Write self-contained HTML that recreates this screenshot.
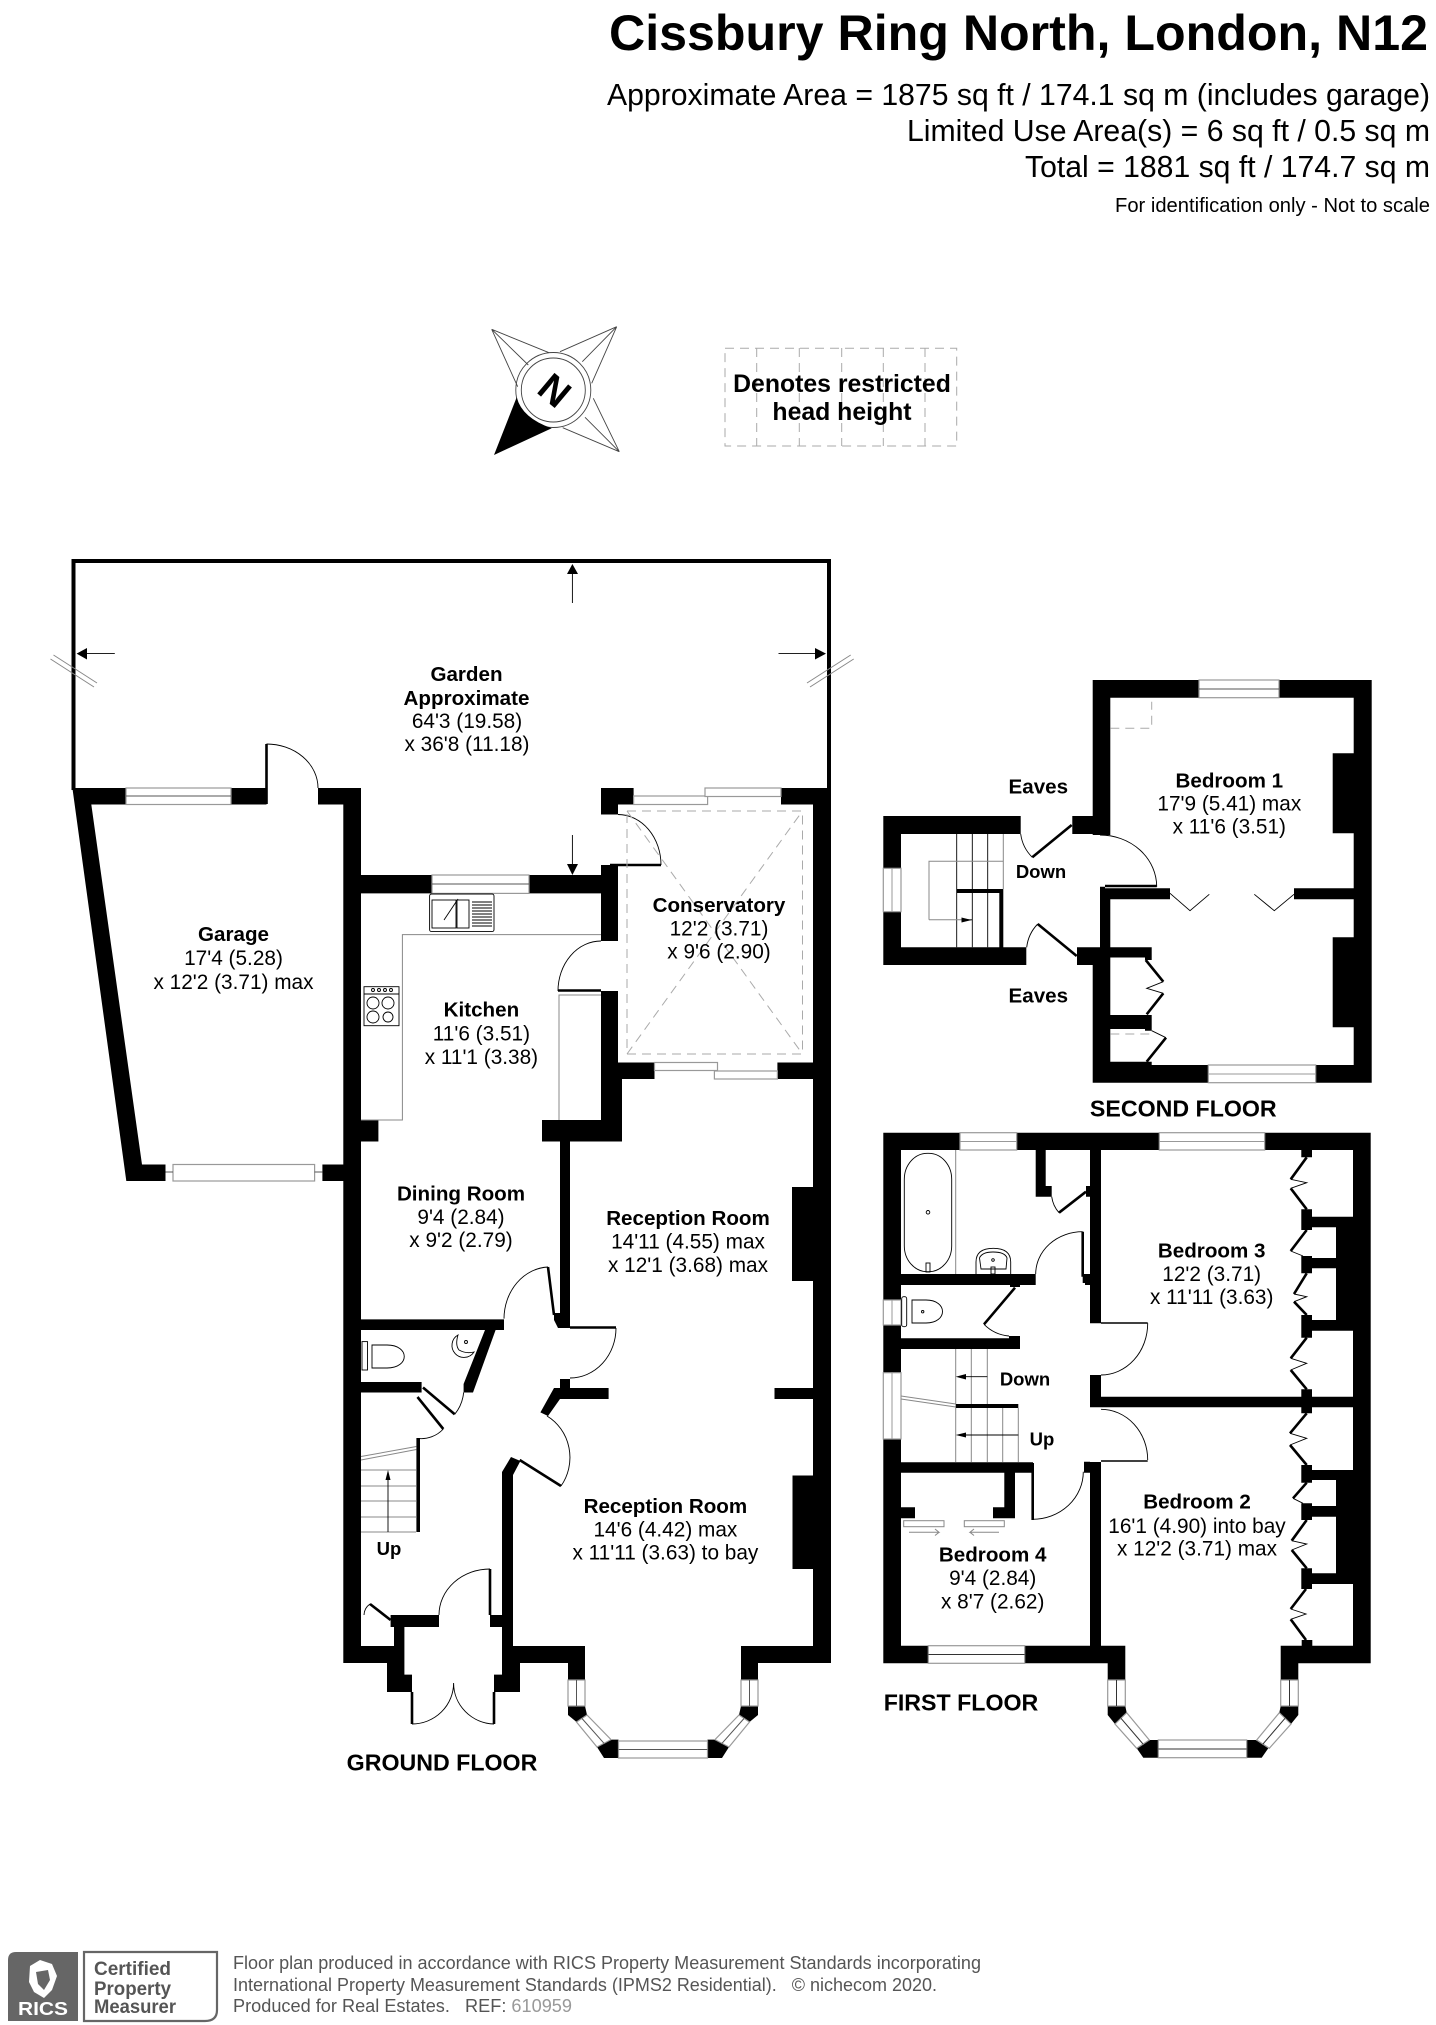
<!DOCTYPE html>
<html lang="en"><head><meta charset="utf-8"><title>Cissbury Ring North, London, N12</title>
<style>
html,body{margin:0;padding:0;background:#fff;width:1436px;height:2025px;overflow:hidden}
svg{display:block}
text{font-family:"Liberation Sans",sans-serif;fill:#000}
.b{font-weight:700;font-size:20.6px;text-anchor:middle}
.r{font-size:20.8px;text-anchor:middle}
.f{font-weight:700;font-size:23.2px;text-anchor:middle}
.e{text-anchor:end}
.w{fill:#fff;stroke:#999;stroke-width:1.2}
.l{fill:none;stroke:#555;stroke-width:1}
.g{fill:none;stroke:#888;stroke-width:1}
.t{fill:none;stroke:#000;stroke-width:.9}
.k{fill:none;stroke:#000;stroke-width:2.6}
.d{fill:none;stroke:#aaa;stroke-width:1;stroke-dasharray:9 6}
.c{font-size:18px;fill:#555}
</style></head><body>
<svg width="1436" height="2025" viewBox="0 0 1436 2025" xmlns="http://www.w3.org/2000/svg">
<rect width="1436" height="2025" fill="#fff"/>

<!-- header -->
<text x="1428" y="50" class="e" font-weight="700" font-size="50" textLength="819" lengthAdjust="spacingAndGlyphs">Cissbury Ring North, London, N12</text>
<text x="1430" y="105" class="e" font-size="31" textLength="823" lengthAdjust="spacingAndGlyphs">Approximate Area = 1875 sq ft / 174.1 sq m (includes garage)</text>
<text x="1430" y="141" class="e" font-size="31" textLength="523" lengthAdjust="spacingAndGlyphs">Limited Use Area(s) = 6 sq ft / 0.5 sq m</text>
<text x="1430" y="177" class="e" font-size="31" textLength="405" lengthAdjust="spacingAndGlyphs">Total = 1881 sq ft / 174.7 sq m</text>
<text x="1430" y="212" class="e" font-size="20" textLength="315" lengthAdjust="spacingAndGlyphs">For identification only - Not to scale</text>

<!-- compass -->
<g fill="none" stroke="#444" stroke-width=".9">
<path d="M491.7 329.3L549 352.7M491.7 329.3L517.7 386.7M491.7 329.3L528.3 365"/>
<path d="M616.7 326.7L560 351.7M616.7 326.7L591.7 383.3M616.7 326.7L582.3 361.7"/>
<path d="M619.3 451.7L593.3 398.3M619.3 451.7L562.7 427.7M619.3 451.7L585 417.3"/>
<circle cx="553.3" cy="390" r="37.5"/><circle cx="553.3" cy="390" r="32"/>
</g>
<path d="M494 455L516.7 397.3Q522 418 551.7 428.3Z" fill="#000"/>
<text x="0" y="0" transform="translate(555 390) rotate(40) translate(-14 14)" font-weight="700" font-size="39" textLength="28" lengthAdjust="spacingAndGlyphs">N</text>

<!-- restricted key -->
<rect x="725" y="348.3" width="231.7" height="97.7" class="d"/>
<path class="d" d="M756.7 348V446M799.3 348V446M841.7 348V446M883.3 348V446M925 348V446"/>
<text x="842" y="392" class="b" style="font-size:24.8px">Denotes restricted</text>
<text x="842" y="420" class="b" style="font-size:24.8px">head height</text>

<!-- garden -->
<path d="M73.5 790V561H829V790" fill="none" stroke="#000" stroke-width="4"/>
<path d="M572.4 572V603M572.4 835V866M85 653.6H114.8M778.5 653.6H817" class="t" stroke-width="1"/>
<path d="M572.4 564L578 574H567ZM572.4 875L578 864H567ZM76.6 653.6L87 648V659.5ZM826 653.6L815 648V659.5Z" fill="#000"/>
<path d="M50.5 659L94 687M53.5 655L97 683M850.7 655L807 683M853.7 659L810 687" class="g"/>

<!-- GROUND FLOOR walls -->
<path fill="#000" d="M72.4 788H126V804.5H91.3L142 1164.5H165.5V1181H126.3Z
M231 788H266.5V804.5H231Z M318 788H361V804.5H318Z M343.3 804H361V1663H343.3Z
M322.4 1164.5H343.3V1181H322.4Z
M361 875H432V893.4H361Z M529 875H602V893.4H529Z
M601 865H618V941H601Z M601 991H618V1062.5H601Z M601 1062.5H622V1141.5H601Z M542 1120H622V1141.5H542Z M361 1120H378.4V1141.5H361Z
M601 788H633.6V804.5H618V814.5H601Z M781 788H831V804.5H781Z M813 804H831V1663H813Z
M618 1062.5H654.5V1079H618Z M777.4 1062.5H813V1079H777.4Z
M560 1141.5H570V1328H558L554 1320V1313H560Z M560 1379H570V1389H560Z
M554 1388H608.6V1399H560L548 1416L540.4 1412.4Z M774.5 1388H813.5V1399H774.5Z
M792 1187H813.5V1281H792Z M792.5 1475.5H813.5V1569H792.5Z
M361 1319.4H504V1330H361Z M485 1330H495.6L473 1392.5H463.6V1384Z M361 1382H421.6V1392.5H361Z
M416.4 1438H420V1532H416.4Z
M502 1472L511 1457L520.4 1461L513 1475V1663H502Z M490 1615H502V1627H490Z
M343.4 1646H394V1663H343.4Z
M390.6 1615H439V1627H404.4V1674.6H412V1692H387V1663H394V1627H390.6Z
M502 1627H513V1663H520V1692H494V1674.6H502Z
M513 1646H585V1680H568V1663H513Z M741 1646H831V1663H758V1680H741Z
M568 1706H585L587 1715L576.5 1722L568 1715Z M758 1706H741L739 1715L749.5 1722L758 1715Z
M597 1747L611 1739.6H618.5V1758H604Z M729 1747L715 1739.6H707.5V1758H722Z"/>

<!-- ground windows -->
<rect x="126" y="788" width="105" height="16.5" class="w"/><path class="l" d="M126 796H231"/>
<rect x="173" y="1164.5" width="141.6" height="16.5" class="w"/><path class="l" d="M165.5 1172H173M314.6 1172H322.4"/>
<rect x="432" y="875" width="97" height="18.4" class="w"/><path class="l" d="M432 884H529"/>
<rect x="633.6" y="796" width="74" height="8.5" class="w"/><rect x="705" y="788" width="76" height="8.5" class="w"/>
<rect x="654.5" y="1062.5" width="63" height="8" class="w"/><rect x="714.4" y="1071" width="63" height="8" class="w"/>
<rect x="568" y="1680" width="17" height="26" class="w"/><path class="l" d="M576.5 1680V1706"/>
<rect x="741" y="1680" width="17" height="26" class="w"/><path class="l" d="M749.5 1680V1706"/>
<rect x="618.5" y="1741" width="89" height="17" class="w"/><path class="l" d="M618.5 1749.5H707.5"/>
<path class="w" d="M576.5 1722L587 1715L611 1739.6L597 1747Z M749.5 1722L739 1715L715 1739.6L729 1747Z"/>
<path class="l" d="M582 1718.5L604 1743.3M744 1718.5L722 1743.3"/>

<!-- ground doors -->
<path class="k" d="M266.5 744V804M610 865H661M558 990.5H601M548 1267L554 1315M570 1327.5H616M423 1387.5L454.7 1414.3M417.5 1397L443.3 1429M519.7 1460L561 1486M370 1604L390.6 1620M490 1569V1615M412 1692V1724M494 1692V1724"/>
<path class="t" d="M266.5 744A51.5 44 0 0 1 318 788M618 814.5A43 50.5 0 0 1 661 865M601 941A43 50 0 0 0 558 991M548 1267A46 52 0 0 0 504 1318.6M616 1328A46 50 0 0 1 570 1378M454.7 1414.3A40 40 0 0 0 463.6 1392.5M443.3 1429A30 30 0 0 1 417.5 1438.4M547 1416A46 48 0 0 1 561 1486M490 1569A51 46 0 0 0 439 1615M412 1724A41.6 41 0 0 0 453.6 1683M494 1724A41.6 41 0 0 1 453.6 1683M370 1604A14 14 0 0 0 364 1615"/>

<!-- conservatory roof -->
<rect x="627" y="811" width="175.5" height="243" class="d"/>
<path class="d" d="M627 1054L802.5 811M627 811L802.5 1054"/>

<!-- kitchen fit -->
<path class="g" d="M361 1120H402.4V934.6H601M559 1120V995H601"/>
<rect x="429.6" y="894" width="64.4" height="37.6" rx="2" class="t"/>
<rect x="432" y="900" width="24" height="28" class="t"/><rect x="457" y="900" width="12" height="28" class="t"/>
<path class="t" d="M444 920L458 899M472 902H492M472 905H492M472 908H492M472 911H492M472 914H492M472 917H492M472 920H492M472 923H492M472 926H492"/>
<rect x="364" y="986.7" width="35" height="39" class="t"/><path class="t" d="M364 994H399"/>
<circle cx="373" cy="1003" r="6" class="t"/><circle cx="388" cy="1003" r="6" class="t"/><circle cx="373" cy="1017" r="6" class="t"/><circle cx="388" cy="1017" r="5" class="t"/>
<circle cx="373" cy="990" r="1.5" class="t"/><circle cx="379" cy="990" r="1.5" class="t"/><circle cx="385" cy="990" r="1.5" class="t"/><circle cx="391" cy="990" r="1.5" class="t"/>

<!-- ground WC and stairs -->
<rect x="362" y="1341.6" width="5.5" height="28.4" class="t"/>
<path class="t" d="M372 1345H387C410 1345 410 1368 387 1368H372Z"/>
<path class="t" d="M474 1352A12 12 0 1 1 458 1335Q455 1345 459 1350Q466 1354 474 1352Z"/>
<circle cx="466" cy="1342" r="1.5" class="t"/>
<path class="g" d="M361 1470H416M361 1486H416M361 1501H416M361 1517H416M361 1532H416M361 1460L416.4 1449.5M361 1456.5L416.4 1446.5"/>
<path class="t" d="M388 1532V1476"/><path d="M388 1470L390.5 1480H385.5Z"/>

<!-- SECOND FLOOR -->
<path fill="#000" d="M1092.7 680H1199V697.7H1110.3V835H1092.7V834H1072.3V816H1092.7Z
M1279 680H1371.7V1082.7H1315.7V1065H1353.7V697.7H1279Z
M1100 886.7H1105V888.3H1170V899.3H1110.3V947.3H1151.7V960H1145V957.5H1110.3V1015H1151.7V1030.7H1145V1029H1110.3V1061.7H1151.7V1065H1208.3V1082.7H1092.7V965H1077V947.3H1100Z
M1294 888.3H1353.7V899.3H1294Z
M1332.7 753.3H1353.7V833.3H1332.7Z M1332.7 937.3H1353.7V1027.3H1332.7Z
M883.3 816H1020.7V834H901V868.3H883.3Z M883.3 911.7H901V947.3H1026.3V965H883.3Z
M956.7 889H1003.3V947.3H999.3V893H956.7Z"/>
<rect x="1199" y="680" width="80" height="17.7" class="w"/><path class="l" d="M1199 689H1279"/>
<rect x="1208.3" y="1065" width="107.4" height="17.7" class="w"/><path class="l" d="M1208.3 1074H1315.7" style="stroke:#999"/>
<rect x="883.3" y="868.3" width="17.7" height="43.4" class="w"/><path class="l" d="M892 868.3V911.7" style="stroke:#999"/>
<path class="k" d="M1032.3 857.3L1071.7 825M1037.7 924L1076.7 956M1105 886H1156.7M1145.7 960L1163.3 981.7M1146.7 1014.3L1163.3 993.3M1146.7 1061.7L1166 1037.7"/>
<path class="t" d="M1020.7 834A40 40 0 0 0 1032.3 857.3M1037.7 924A40 40 0 0 0 1026.7 947.3M1100 835A56.7 51.7 0 0 1 1156.7 886.7M1163.3 981.7L1146.7 988.3L1163.3 993.3M1166 1037.7L1151.7 1030.7M1170 893.3L1190 910.7L1209.3 894.3M1294 894.3L1274.3 910.7L1254.3 894.3"/>
<path class="d" d="M1110.3 728.3H1151.7V701.7M1110.3 1034H1151.7"/>
<path class="t" d="M956.7 834V947.3M972.3 834V889M972.3 893V947.3M987.7 834V889M987.7 893V947.3"/>
<path class="g" d="M1003.3 834V889M929 919.8V861.3H1003.3M929 919.8H965"/>
<path class="t" d="M965 919.8H972"/><path d="M971.7 920L961.5 917.5V922.5Z"/>

<!-- FIRST FLOOR -->
<path fill="#000" d="M883.3 1132.7H960V1150H901V1300H883.3Z M1016.7 1132.7H1159.3V1150H1101V1323.3H1090V1196.7H1086V1186H1090V1150H1045.7V1186H1051.7V1196.7H1035.7V1150H1016.7Z
M1264.7 1132.7H1370.7V1663.3H1280.7V1645.7H1353V1584H1312V1589H1301.3V1568.3H1312V1573.3H1336V1516.7H1312V1520H1301.3V1503.3H1312V1506H1336V1480H1312V1482.7H1301.3V1465H1312V1470H1353V1407.3H1312V1413.3H1301.3V1407.3H1090V1375H1101V1396.7H1301.3V1389.3H1312V1396.7H1353V1330.7H1312V1337.7H1301.3V1315H1312V1320H1336V1268.3H1312V1273.3H1301.3V1256H1312V1258H1336V1227.3H1312V1230H1301.3V1209.3H1312V1216.7H1353V1150H1312V1157.3H1301.3V1150H1264.7Z
M1301.7 1640H1312.3V1646H1301.7Z
M883.3 1325H901V1372.7H883.3Z M883.3 1439H901V1645.7H928.3V1663.3H883.3Z
M901 1274H1035.7V1285H1020V1287H1010V1285H901Z M1082.7 1274H1090V1285H1085V1283H1082.7Z
M901 1338.3H1009V1336H1020V1349H901Z
M901 1462.3H1033V1472.7H1015V1518.3H993V1507.3H1004.3V1472.7H901Z
M1084 1461.7H1090V1462H1101V1645.7H1125.3V1680H1107.7V1663.3H1024.7V1645.7H1090V1472.7H1084Z
M901 1507.3H915V1518.3H901Z
M1107.7 1706H1125.3L1126.7 1712.7L1115 1724L1107.7 1715Z M1298.3 1706H1280.7L1279.3 1712.7L1291 1724L1298.3 1715Z
M1136.7 1748.3L1149.3 1740H1158.3V1757.7H1143.3Z M1268.3 1748.3L1255.7 1740H1246.7V1757.7H1261.7Z
M1280.7 1645.7H1298.3V1680H1280.7Z"/>
<rect x="960" y="1132.7" width="56.7" height="17.3" class="w"/><path class="l" d="M960 1141.5H1016.7" style="stroke:#999"/>
<rect x="1159.3" y="1132.7" width="105.4" height="17.3" class="w"/><path class="l" d="M1159.3 1141.5H1264.7" style="stroke:#999"/>
<rect x="883.3" y="1300" width="17.7" height="25" class="w"/><path class="l" d="M892 1300V1325" style="stroke:#999"/>
<rect x="883.3" y="1372.7" width="17.7" height="66.3" class="w"/><path class="l" d="M892 1372.7V1439" style="stroke:#999"/>
<rect x="928.3" y="1645.7" width="96.4" height="17.6" class="w"/><path class="l" d="M928.3 1654.5H1024.7" style="stroke:#333"/>
<rect x="1107.7" y="1680" width="17.6" height="26" class="w"/><path class="l" d="M1116.5 1680V1706" style="stroke:#333"/>
<rect x="1280.7" y="1680" width="17.6" height="26" class="w"/><path class="l" d="M1289.5 1680V1706" style="stroke:#333"/>
<rect x="1158.3" y="1740" width="88.4" height="17.7" class="w"/><path class="l" d="M1158.3 1749H1246.7" style="stroke:#333"/>
<path class="w" d="M1115 1724L1126.7 1712.7L1149.3 1740L1136.7 1748.3Z M1291 1724L1279.3 1712.7L1256.7 1740L1269.3 1748.3Z"/>
<path class="l" d="M1121 1718.3L1143 1744M1285 1718.3L1263 1744" style="stroke:#333"/>

<!-- first floor doors -->
<path class="k" d="M1082.7 1231.7V1276.7M1059 1212.7L1086 1191.7M1015 1287.7L984 1324.3M1032.7 1463V1520"/>
<path class="k" style="stroke-width:1.4" d="M1101 1323H1147.7M1101 1461H1147.7"/>
<path class="t" d="M1082.7 1231.7A47 42.3 0 0 0 1035.7 1274M1051.7 1196.7A30 30 0 0 0 1059 1212.7M984 1324.3A40 40 0 0 0 1009 1336M1147.7 1323.3A46.7 51.7 0 0 1 1101 1375M1101 1409.3A46.7 50.7 0 0 1 1147.7 1460M1032.7 1519.3A50.6 47.6 0 0 0 1083.3 1471.7"/>
<!-- wardrobes -->
<path class="k" d="M1306.7 1157.3L1290.7 1179.3M1290.7 1188.3L1306.7 1209.3M1306.7 1230L1290.7 1251M1306.7 1273.3L1294 1294M1294 1301.7L1306.7 1315M1306.7 1337.7L1290.7 1358.3M1290.7 1370L1306.7 1389.3M1306.7 1413.3L1290 1433.3M1290 1445L1306.7 1465M1306.7 1482.7L1293 1498.3M1306.7 1520L1291.7 1540.7M1291.7 1550L1306.7 1568.3M1306 1589L1290.7 1609M1290.7 1619.3L1306 1640"/>
<path class="t" d="M1290.7 1179.3L1306.7 1182.7L1290.7 1188.3M1290.7 1251L1303 1256M1294 1294L1306.7 1296.7L1294 1301.7M1290.7 1358.3L1306.7 1363.3L1290.7 1370M1290 1433.3L1306.7 1438.3L1290 1445M1293 1498.3L1303 1503.3M1291.7 1540.7L1306.7 1544L1291.7 1550M1290.7 1609L1306 1614L1290.7 1619.3"/>
<!-- bath etc -->
<rect x="904.3" y="1153.3" width="47.4" height="118.4" rx="23" ry="26" class="t"/>
<circle cx="928" cy="1212.3" r="1.8" class="t"/><rect x="926" y="1263" width="4" height="9" class="t"/>
<path class="g" d="M955.7 1150V1274"/>
<path class="t" d="M976 1274V1262Q976 1248.3 993.3 1248.3Q1010.7 1248.3 1010.7 1262V1274M981 1269L979.5 1258Q982 1252 993 1252Q1005 1252 1007 1258L1006 1269Z"/>
<circle cx="993" cy="1260" r="1.3" class="t"/><rect x="991" y="1267" width="4" height="7" class="t"/>
<rect x="901.7" y="1296.7" width="5" height="30" rx="2" class="t"/>
<path class="t" d="M912 1300H926C948 1300 948 1323 926 1323H912Z"/><circle cx="922.7" cy="1311.7" r="1.2" class="t"/>
<path class="g" d="M955.7 1349V1404M971.3 1349V1404M987.3 1349V1404M955.7 1408V1462M971.3 1408V1462M987.3 1408V1462M1002.7 1408V1462M1018.3 1408V1462M901 1396L955.7 1404M901 1399L955.7 1407"/>
<path fill="#000" d="M955.7 1404H1018.3V1408H955.7Z"/>
<path class="t" d="M962 1376.7H987.3M962 1435H1018.3"/><path d="M955.7 1376.7L966 1374V1379.5ZM955.7 1435L966 1432.5V1437.5Z"/>
<rect x="903.7" y="1520.7" width="40.3" height="6" class="g"/><rect x="964.3" y="1520.7" width="40" height="6" class="g"/>
<path class="g" d="M909 1532.3H939L935 1529M939 1532.3L935 1535.5M999 1532.3H970L974 1529M970 1532.3L974 1535.5"/>

<!-- labels ground -->
<text x="466.5" y="681" class="b">Garden</text><text x="466.5" y="705" class="b">Approximate</text>
<text x="467" y="728" class="r">64'3 (19.58)</text><text x="467" y="751" class="r">x 36'8 (11.18)</text>
<text x="233.5" y="941" class="b">Garage</text><text x="233.5" y="965" class="r">17'4 (5.28)</text><text x="233.5" y="989" class="r">x 12'2 (3.71) max</text>
<text x="481.4" y="1016.5" class="b">Kitchen</text><text x="481.4" y="1040.5" class="r">11'6 (3.51)</text><text x="481.4" y="1064.2" class="r">x 11'1 (3.38)</text>
<text x="719" y="912" class="b">Conservatory</text><text x="719" y="935.5" class="r">12'2 (3.71)</text><text x="719" y="958.5" class="r">x 9'6 (2.90)</text>
<text x="461" y="1200.4" class="b">Dining Room</text><text x="461" y="1224" class="r">9'4 (2.84)</text><text x="461" y="1247" class="r">x 9'2 (2.79)</text>
<text x="688" y="1225" class="b">Reception Room</text><text x="688" y="1248.6" class="r">14'11 (4.55) max</text><text x="688" y="1272" class="r">x 12'1 (3.68) max</text>
<text x="665.4" y="1512.8" class="b">Reception Room</text><text x="665.4" y="1536.3" class="r">14'6 (4.42) max</text><text x="665.4" y="1559.7" class="r">x 11'11 (3.63) to bay</text>
<text x="389" y="1555" class="b" style="font-size:18.5px">Up</text>
<text x="442" y="1770.5" class="f">GROUND FLOOR</text>
<!-- labels second -->
<text x="1229.3" y="787.3" class="b">Bedroom 1</text><text x="1229.3" y="810.7" class="r">17'9 (5.41) max</text><text x="1229.3" y="833.3" class="r">x 11'6 (3.51)</text>
<text x="1038.3" y="793.7" class="b">Eaves</text><text x="1038.3" y="1002.7" class="b">Eaves</text>
<text x="1041" y="878" class="b" style="font-size:18.5px">Down</text>
<text x="1183.3" y="1116.5" class="f">SECOND FLOOR</text>
<!-- labels first -->
<text x="1211.7" y="1257.3" class="b">Bedroom 3</text><text x="1211.7" y="1281" class="r">12'2 (3.71)</text><text x="1211.7" y="1304" class="r">x 11'11 (3.63)</text>
<text x="1197" y="1508.3" class="b">Bedroom 2</text><text x="1197" y="1533" class="r">16'1 (4.90) into bay</text><text x="1197" y="1555.5" class="r">x 12'2 (3.71) max</text>
<text x="992.7" y="1561.7" class="b">Bedroom 4</text><text x="992.7" y="1585" class="r">9'4 (2.84)</text><text x="992.7" y="1608.3" class="r">x 8'7 (2.62)</text>
<text x="1025" y="1385.5" class="b" style="font-size:18.5px">Down</text><text x="1042" y="1445.5" class="b" style="font-size:18.5px">Up</text>
<text x="961" y="1710.5" class="f">FIRST FLOOR</text>

<!-- footer -->
<path d="M8 1960Q8 1952 16 1952H78V2021H8Z" fill="#666"/>
<path d="M30 1966L40 1960L52 1964L57 1976L52 1990L44 1998L34 1992L29 1982Z" fill="#fff"/>
<path d="M36 1972L48 1970L50 1980L44 1990L38 1984Z" fill="#666"/>
<text x="43" y="2015" text-anchor="middle" font-weight="700" font-size="18" style="fill:#fff" textLength="50" lengthAdjust="spacingAndGlyphs">RICS</text>
<path d="M84 1952H217V2010Q217 2021 205 2021H84Z" fill="none" stroke="#666" stroke-width="2.2"/>
<text x="94" y="1975" font-weight="700" font-size="19" style="fill:#555" textLength="77" lengthAdjust="spacingAndGlyphs">Certified</text>
<text x="94" y="1995" font-weight="700" font-size="19" style="fill:#555" textLength="77" lengthAdjust="spacingAndGlyphs">Property</text>
<text x="94" y="2013" font-weight="700" font-size="19" style="fill:#555" textLength="82" lengthAdjust="spacingAndGlyphs">Measurer</text>
<text x="233" y="1969" class="c" textLength="748" lengthAdjust="spacingAndGlyphs">Floor plan produced in accordance with RICS Property Measurement Standards incorporating</text>
<text x="233" y="1991" class="c" textLength="704" lengthAdjust="spacingAndGlyphs">International Property Measurement Standards (IPMS2 Residential).&#160;&#160; © nichecom 2020.</text>
<text x="233" y="2012" class="c" textLength="339" lengthAdjust="spacingAndGlyphs">Produced for Real Estates.&#160;&#160; REF: <tspan style="fill:#999">610959</tspan></text>
</svg>
</body></html>
